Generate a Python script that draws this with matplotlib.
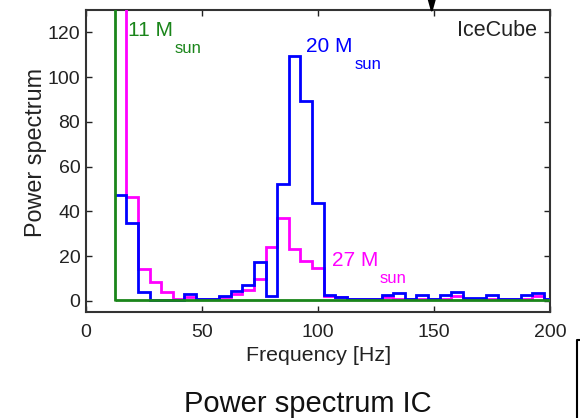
import matplotlib
matplotlib.use("Agg")
import matplotlib.pyplot as plt
import numpy as np
from matplotlib.lines import Line2D

plt.rcParams['font.family'] = ['Liberation Sans', 'DejaVu Sans']

# 5 Hz frequency bins starting at 12.5 Hz
bin_edges = np.arange(12.5, 203, 5.0)

# power per bin for each progenitor mass
power_20 = [47.5, 34.6, 3.8, 0.5, 0.5, 0.5, 3.0, 0.8, 0.8, 2.2,
            4.5, 7.2, 17.2, 2.2, 52.2, 109.6, 89.2, 43.6, 2.5, 1.5,
            1.0, 0.7, 0.7, 2.5, 3.3, 1.0, 2.5, 0.7, 2.5, 3.8,
            1.2, 1.2, 2.5, 1.0, 1.0, 2.5, 3.5, 1.0]
power_27 = [300.0, 46.2, 14.2, 8.2, 3.8, 1.0, 1.5, 0.6, 0.6, 1.5,
            3.0, 5.0, 9.7, 24.2, 37.0, 23.1, 17.9, 14.7, 2.0, 1.5,
            1.0, 0.8, 0.8, 1.5, 0.8, 0.8, 0.8, 0.8, 0.8, 2.0,
            0.8, 0.8, 0.8, 0.8, 0.8, 0.8, 2.0, 0.8]
power_11 = [0.2] * 38
spike_11 = 300.0   # off-scale peak of the 11 Msun spectrum at the lowest edge

col_11 = '#1a851a'
col_20 = '#0000ff'
col_27 = '#ff00ff'

fig = plt.figure(figsize=(5.8, 4.18), dpi=100)
ax = fig.add_axes([0.148, 0.2536, 0.8, 0.7224])

ax.stairs(power_27, bin_edges, baseline=None, color=col_27, lw=2, zorder=3)
ax.stairs(power_20, bin_edges, baseline=None, color=col_20, lw=2, zorder=4)
ax.stairs(power_11, bin_edges, baseline=None, color=col_11, lw=2, zorder=5)
ax.vlines(bin_edges[0], 0, spike_11, color=col_11, lw=2, zorder=5)

ax.set_xlim(0, 200)
ax.set_ylim(-5, 130)
ax.set_xticks([0, 50, 100, 150, 200])
ax.set_yticks([0, 20, 40, 60, 80, 100, 120])
ax.tick_params(direction='in', length=4, width=1, top=True, right=True,
               labelsize=14, colors='#222222')
ax.tick_params(axis='x', pad=8.5)
ax.tick_params(axis='y', pad=4)
for s in ax.spines.values():
    s.set_linewidth(1.5)
    s.set_color('#333333')

ax.set_xlabel('Frequency [Hz]', fontsize=15.4, color='#222222')
ax.xaxis.set_label_coords(0.502, -0.113)
ax.set_ylabel('Power spectrum', fontsize=16.8, color='#222222')
ax.yaxis.set_label_coords(-0.083, 0.528)


def mass_label(x, y, mass, color):
    t = ax.text(x, y, f'{mass} M', color=color, fontsize=15, va='baseline')
    ax.annotate('sun', xy=(1, 0), xycoords=t, xytext=(1, -9.5),
                textcoords='offset points', color=color, fontsize=12,
                va='baseline')


mass_label(18.1, 118.4, 11, col_11)
mass_label(95.1, 111.3, 20, col_20)
mass_label(105.9, 15.7, 27, col_27)

ax.text(194.3, 118.6, 'IceCube', fontsize=15.5, ha='right', va='baseline',
        color='#222222')

# arrow marking the frequency of interest from above
ax.annotate('', xy=(149.1, 126.9), xytext=(149.1, 150),
            arrowprops=dict(arrowstyle='-|>,head_length=1.8,head_width=0.5',
                            color='black', lw=1.5, mutation_scale=10),
            annotation_clip=False)

fig.text(0.531, 0.015, 'Power spectrum IC', fontsize=21, ha='center',
         va='baseline', color='#111111')

# edge of the neighbouring panel
x0 = 577 / 580
y0 = 1 - 340 / 418
fig.add_artist(Line2D([x0, x0, 1.0], [0.0, y0, y0], color='black', lw=1.5))

fig.savefig('out.png', dpi=100)
